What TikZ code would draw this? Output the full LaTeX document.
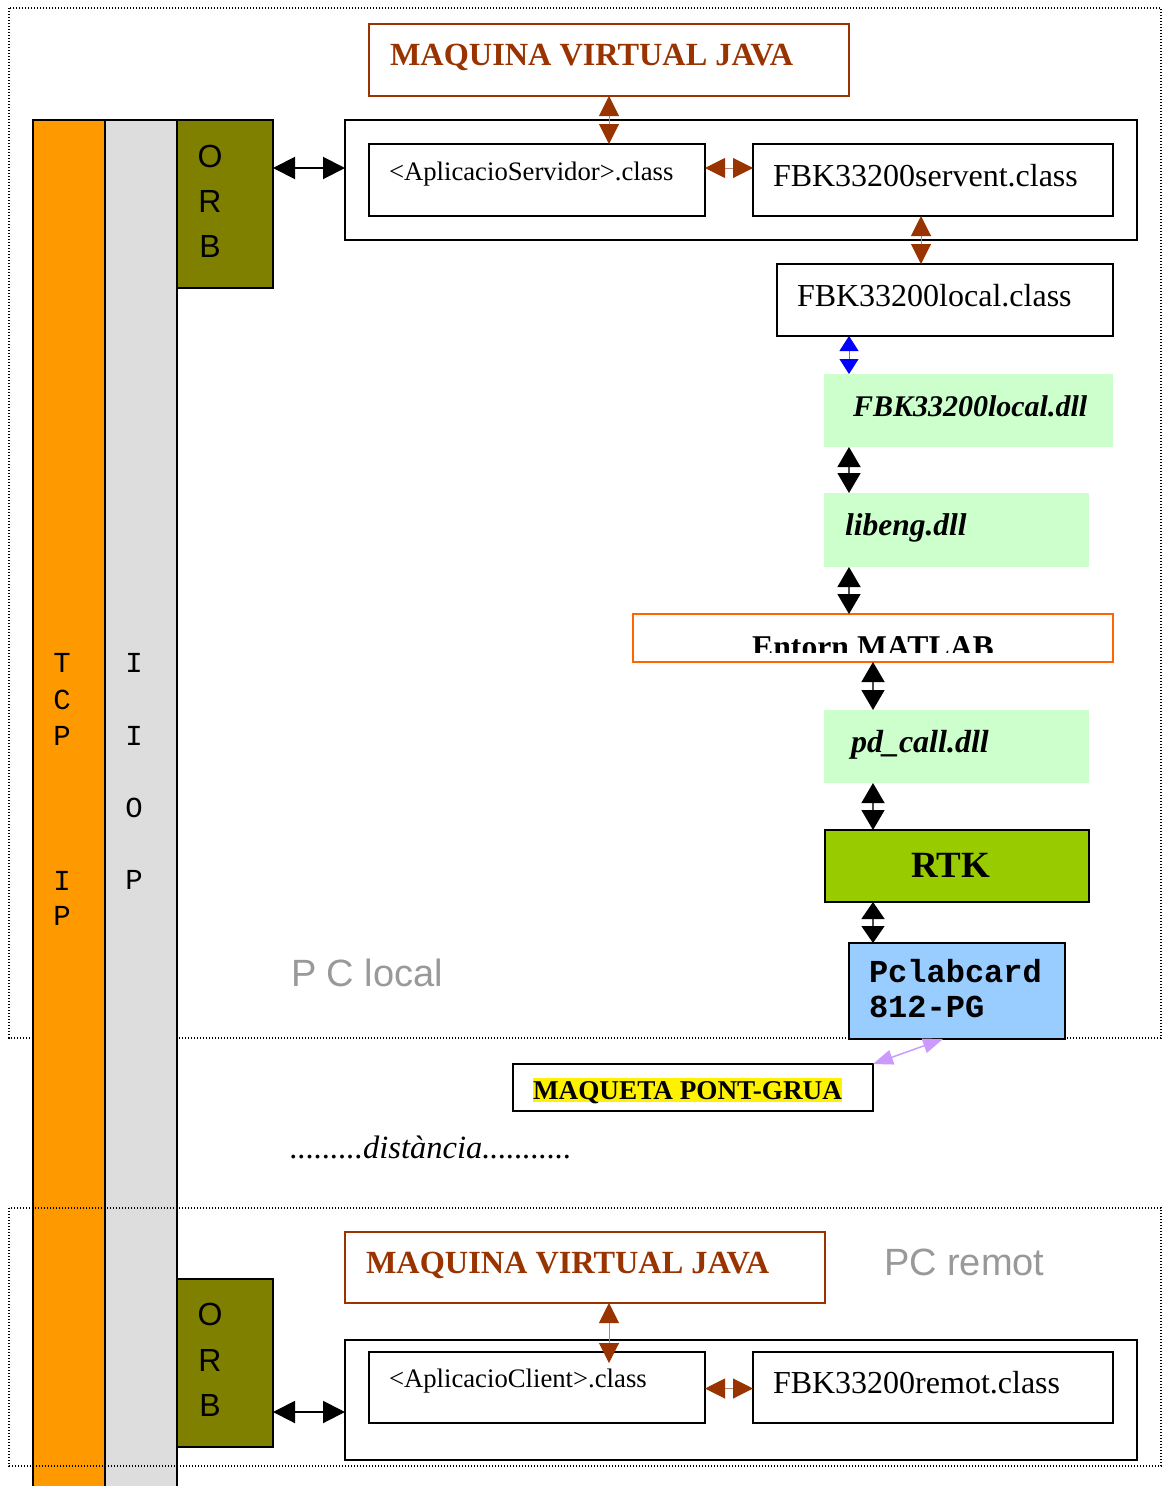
\documentclass[tikz,border=0pt]{standalone}
\usepackage{fontspec}
\setmainfont{Liberation Serif}
\setsansfont{Liberation Sans}
\setmonofont{Liberation Mono}
\usetikzlibrary{arrows.meta}

\definecolor{jvmbrown}{HTML}{993300}
\definecolor{tcporange}{HTML}{FF9900}
\definecolor{iiopgray}{HTML}{DDDDDD}
\definecolor{orbolive}{HTML}{808000}
\definecolor{dllgreen}{HTML}{CCFFCC}
\definecolor{rtkgreen}{HTML}{99CC00}
\definecolor{cardblue}{HTML}{99CCFF}
\definecolor{linkpurple}{HTML}{CC99FF}
\definecolor{matlaborange}{HTML}{FF6600}
\definecolor{pcgray}{HTML}{999999}

\newcommand{\fs}[1]{\fontsize{#1}{#1}\selectfont}

\tikzset{
  blk/.style={draw=black, line width=2pt, minimum width=#1, anchor=north west, inner sep=0pt, outer sep=0pt},
  jvmbox/.style={draw=jvmbrown, line width=1.8pt, anchor=north west, inner sep=0pt, outer sep=0pt},
  dllbox/.style={fill=dllgreen, anchor=north west, inner sep=0pt, outer sep=0pt},
  txt/.style={anchor=base west, inner sep=0pt, outer sep=0pt},
  ctxt/.style={anchor=base, inner sep=0pt, outer sep=0pt},
  sect/.style={draw=black, line width=1.2pt, dash pattern=on 1.2pt off 1.8pt},
  blackarrow/.style={{Triangle[length=#1,width=23pt,color=black]}-{Triangle[length=#1,width=23pt,color=black]}, line width=1.5pt, draw=black!70},
  blackarrow/.default=20pt,
  orbarrow/.style={{Triangle[length=22pt,width=22pt,color=black]}-{Triangle[length=22pt,width=22pt,color=black]}, line width=2pt, draw=black},
  brownarrow/.style={{Triangle[length=20pt,width=20pt,color=jvmbrown]}-{Triangle[length=20pt,width=20pt,color=jvmbrown]}, line width=1pt, draw=jvmbrown!60},
  bluearrow/.style={{Triangle[length=15pt,width=19pt,color=blue]}-{Triangle[length=15pt,width=19pt,color=blue]}, line width=1pt, draw=blue!60},
  purplearrow/.style={{Triangle[length=20pt,width=15pt,color=linkpurple]}-{Triangle[length=20pt,width=15pt,color=linkpurple]}, line width=1.5pt, draw=linkpurple},
}

\begin{document}
\begin{tikzpicture}[x=1pt, y=-1pt]
\useasboundingbox (0,0) rectangle (1167,1486);
\clip (0,0) rectangle (1167,1486);

% local PC frame
\draw[sect] (9,8) rectangle (1161,1038);

% protocol columns
\node[draw=black, line width=2pt, fill=tcporange, minimum width=72pt, minimum height=1380pt, anchor=north west, inner sep=0pt, outer sep=0pt] (tcp) at (33,120) {};
\node[draw=black, line width=2pt, fill=iiopgray, minimum width=72pt, minimum height=1380pt, anchor=north west, inner sep=0pt, outer sep=0pt] (iiop) at (105,120) {};

\begin{scope}[font=\ttfamily\fs{29}]
\node[ctxt] (tcpT) at (62,672) {T};
\node[ctxt] (tcpC) at (62,709) {C};
\node[ctxt] (tcpP) at (62,745) {P};
\node[ctxt] (ipI) at (62,890) {I};
\node[ctxt] (ipP) at (62,925) {P};
\node[ctxt] (iiopI1) at (134,672) {I};
\node[ctxt] (iiopI2) at (134,745) {I};
\node[ctxt] (iiopO) at (134,817) {O};
\node[ctxt] (iiopP) at (134,889) {P};
\end{scope}

% ORB blocks
\node[draw=black, line width=2pt, fill=orbolive, minimum width=96pt, minimum height=168pt, anchor=north west, inner sep=0pt, outer sep=0pt] (orbA) at (177,120) {};
\node[draw=black, line width=2pt, fill=orbolive, minimum width=96pt, minimum height=168pt, anchor=north west, inner sep=0pt, outer sep=0pt] (orbB) at (177,1279) {};
\begin{scope}[font=\sffamily\fs{32}]
\node[ctxt] (orbAO) at (210,167) {O};
\node[ctxt] (orbAR) at (210,212) {R};
\node[ctxt] (orbAB) at (210,257) {B};
\node[ctxt] (orbBO) at (210,1325) {O};
\node[ctxt] (orbBR) at (210,1371) {R};
\node[ctxt] (orbBB) at (210,1416) {B};
\end{scope}

% server side
\node[jvmbox, minimum width=480pt, minimum height=72pt] (jvmA) at (369,24) {};
\node[txt, text=jvmbrown, font=\bfseries\fs{32.3}] (jvmAt) at (390,65) {MAQUINA VIRTUAL JAVA};

\node[blk=792pt, minimum height=120pt] (srvgrp) at (345,120) {};
\node[blk=336pt, minimum height=72pt] (srv) at (369,144) {};
\node[txt, font=\fs{26.7}] (srvt) at (389,180) {<AplicacioServidor>.class};
\node[blk=360pt, minimum height=72pt] (servent) at (753,144) {};
\node[txt, font=\fs{32}] (serventt) at (773,186) {FBK33200servent.class};

\node[blk=336pt, minimum height=72pt] (lcl) at (777,264) {};
\node[txt, font=\fs{32}] (lclt) at (797,306) {FBK33200local.class};

\node[dllbox, minimum width=289pt, minimum height=73pt] (dllA) at (824,374) {};
\node[txt, font=\bfseries\itshape\fs{30}] (dllAt) at (853,416) {FBK33200local.dll};

\node[dllbox, minimum width=265pt, minimum height=74pt] (libeng) at (824,493) {};
\node[txt, font=\bfseries\itshape\fs{31.5}] (libengt) at (845,535) {libeng.dll};

\node[draw=matlaborange, line width=1.8pt, minimum width=480pt, minimum height=48pt, anchor=north west, inner sep=0pt, outer sep=0pt] (matlab) at (633,614) {};
\begin{scope}
\clip (633,614) rectangle (1113,652);
\node[ctxt, font=\bfseries\fs{31.7}] (matlabt) at (873,657) {Entorn MATLAB};
\end{scope}

\node[dllbox, minimum width=265pt, minimum height=73pt] (pdcall) at (824,710) {};
\node[txt, font=\bfseries\itshape\fs{32}] (pdcallt) at (851,752) {pd\_call.dll};

\node[draw=black, line width=2pt, fill=rtkgreen, minimum width=264pt, minimum height=72pt, anchor=north west, inner sep=0pt, outer sep=0pt] (rtk) at (825,830) {};
\node[ctxt, font=\bfseries\fs{37}] (rtkt) at (951,877) {RTK};

\node[draw=black, line width=2pt, fill=cardblue, minimum width=216pt, minimum height=96pt, anchor=north west, inner sep=0pt, outer sep=0pt] (card) at (849,943) {};
\node[txt, font=\ttfamily\bfseries\fs{32}] (cardA) at (869,982) {Pclabcard};
\node[txt, font=\ttfamily\bfseries\fs{32}] (cardB) at (869,1017) {812-PG};

\node[txt, text=pcgray, font=\sffamily\fs{38}] (pclocal) at (291,986) {P C local};

% crane model and distance
\node[blk=360pt, minimum height=47pt] (maq) at (513,1064) {};
\node[txt, fill=yellow, text height=21pt, text depth=3pt, font=\bfseries\fs{27.2}] (maqt) at (533,1099) {MAQUETA PONT-GRUA};
\node[txt, font=\itshape\fs{32.5}] (dist) at (290,1158) {.........distància...........};

% remote PC frame
\draw[sect] (9,1208) rectangle (1161,1466);
\node[jvmbox, minimum width=480pt, minimum height=71pt] (jvmB) at (345,1232) {};
\node[txt, text=jvmbrown, font=\bfseries\fs{32.3}] (jvmBt) at (366,1273) {MAQUINA VIRTUAL JAVA};
\node[txt, text=pcgray, font=\sffamily\fs{38}] (pcremot) at (884,1275) {PC remot};

\node[blk=792pt, minimum height=120pt] (cligrp) at (345,1340) {};
\node[blk=336pt, minimum height=71pt] (cli) at (369,1352) {};
\node[txt, font=\fs{26.7}] (clit) at (389,1387) {<AplicacioClient>.class};
\node[blk=360pt, minimum height=71pt] (remot) at (753,1352) {};
\node[txt, font=\fs{32}] (remott) at (773,1393) {FBK33200remot.class};

% connector guide coordinates
\coordinate (xA) at (609,0);
\coordinate (xB) at (921,0);
\coordinate (xC) at (849,0);
\coordinate (xD) at (873,0);
\coordinate (xE) at (943,0);
\coordinate (yA) at (0,168);
\coordinate (yB) at (0,1412);
\coordinate (cliTip) at (609,1363);

% connectors
\draw[orbarrow] (orbA.east |- yA) -- (srvgrp.west |- yA);
\draw[orbarrow] (orbB.east |- yB) -- (cligrp.west |- yB);
\draw[brownarrow] (jvmA.south -| xA) -- (srv.north -| xA);
\draw[brownarrow] (srv.east |- yA) -- (servent.west |- yA);
\draw[brownarrow] (servent.south -| xB) -- (lcl.north -| xB);
\draw[bluearrow] (lcl.south -| xC) -- (dllA.north -| xC);
\draw[blackarrow] (dllA.south -| xC) -- (libeng.north -| xC);
\draw[blackarrow] (libeng.south -| xC) -- (matlab.north -| xC);
\draw[blackarrow] (matlab.south -| xD) -- (pdcall.north -| xD);
\draw[blackarrow] (pdcall.south -| xD) -- (rtk.north -| xD);
\draw[blackarrow=17pt] (rtk.south -| xD) -- (card.north -| xD);
\draw[purplearrow] (card.south -| xE) -- (maq.north east);
\draw[brownarrow] (jvmB.south -| xA) -- (cliTip);
\draw[brownarrow] ([yshift=-1pt]cli.east) -- ([yshift=-1pt]remot.west);
\end{tikzpicture}
\end{document}
